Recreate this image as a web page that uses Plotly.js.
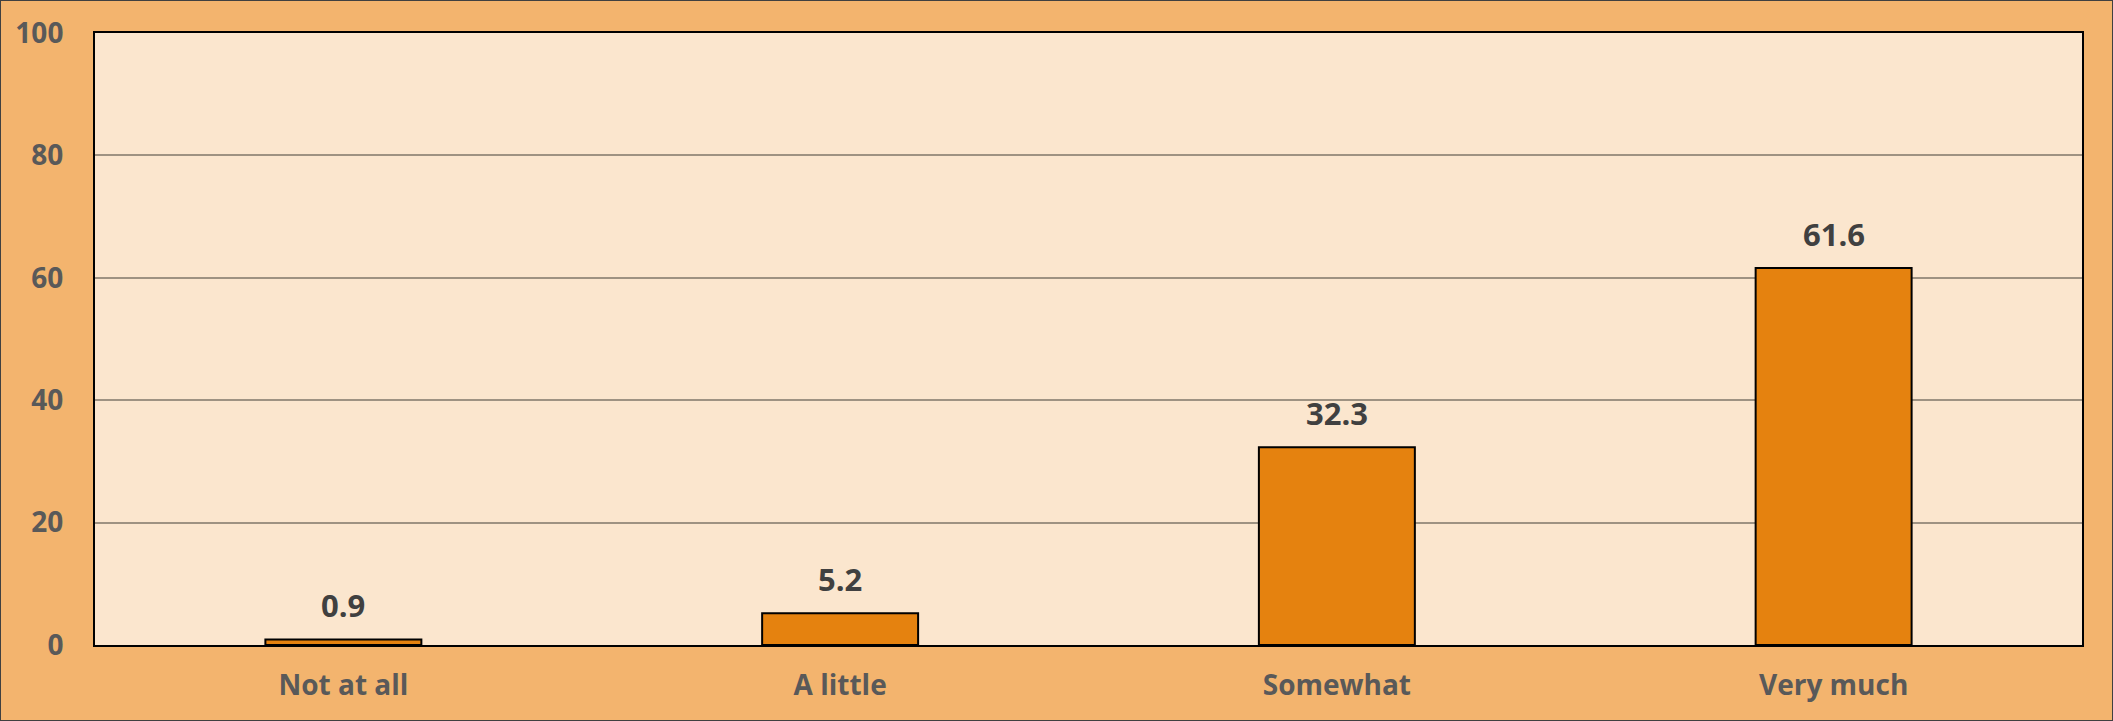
<!DOCTYPE html>
<html>
<head>
<meta charset="utf-8">
<script src="https://cdn.plot.ly/plotly-3.0.1.min.js"></script>
<style>
  html, body { margin: 0; padding: 0; background: #F3B46E; }
  #chart { width: 2113px; height: 721px; box-sizing: border-box; border: 1px solid #404040; }
</style>
</head>
<body>
<div id="chart"></div>
<script>
const categories = ["Not at all", "A little", "Somewhat", "Very much"];
const values = [0.9, 5.2, 32.3, 61.6];
const yTicks = [0, 20, 40, 60, 80, 100];

const trace = {
  type: "bar",
  x: categories,
  y: values,
  marker: { color: "#E5820F", line: { color: "#000000", width: 2 } },
  hoverinfo: "none"
};

const annotations = categories.map((c, i) => ({
  x: c, y: values[i], xref: "x", yref: "y",
  text: values[i].toFixed(1),
  showarrow: false, yanchor: "middle", yshift: 34,
  font: { family: "Open Sans", size: 31, color: "#404040", weight: "bold" }
}));

const layout = {
  width: 2111, height: 719,
  margin: { l: 94, r: 30, t: 32, b: 75 },
  paper_bgcolor: "#F3B46E",
  plot_bgcolor: "#FBE6CE",
  showlegend: false,
  bargap: 0.686,
  font: { family: "Open Sans", color: "#595959" },
  xaxis: {
    type: "category",
    showline: true, mirror: true, linecolor: "#000000", linewidth: 2,
    showgrid: false, ticks: "",
    ticklabelstandoff: 14,
    tickfont: { family: "Open Sans", size: 28, color: "#595959", weight: "bold" }
  },
  yaxis: {
    range: [0, 100],
    tickvals: yTicks,
    ticktext: yTicks.map(String),
    showline: true, mirror: true, linecolor: "#000000", linewidth: 2,
    showgrid: true, gridcolor: "#9E9282", gridwidth: 2,
    zeroline: false, ticks: "",
    ticklabelstandoff: 24,
    tickfont: { family: "Open Sans", size: 28, color: "#595959", weight: "bold" }
  },
  annotations: annotations
};

Plotly.newPlot("chart", [trace], layout, { displayModeBar: false, staticPlot: true });
</script>
</body>
</html>
